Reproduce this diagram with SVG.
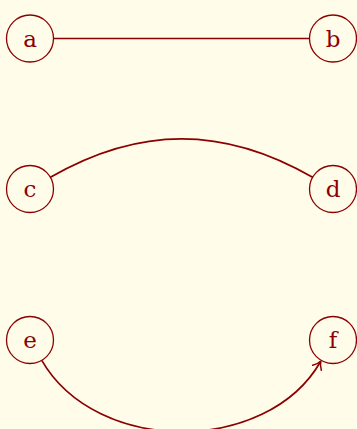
<svg xmlns="http://www.w3.org/2000/svg" width="357" height="429" viewBox="0 0 357 429">
<style>
.bg{fill:#fffce9}
.node circle{fill:none;stroke:#8b0000;stroke-width:1.3}
.node text{font-family:"DejaVu Serif","Liberation Serif",serif;font-size:23px;fill:#8b0000;text-anchor:middle}
.edge{fill:none;stroke:#8b0000;stroke-width:1.7}
</style>
<defs>
<marker id="to" viewBox="-9 -7 11 14" markerWidth="11" markerHeight="14" refX="0" refY="0" orient="auto" markerUnits="userSpaceOnUse">
<path d="M-7,-5 C-4.5,-2.2 -1.2,-0.5 0.8,0 C-1.2,0.5 -4.5,2.2 -7,5" fill="none" stroke="#8b0000" stroke-width="1.5" stroke-linecap="round"/>
</marker>
</defs>
<rect class="bg" width="357" height="429"/>
<g id="connectors">
<path class="edge" d="M53.5,38.5 L309.5,38.5"/>
<path class="edge" d="M50.4,177.3 C139.3,126 223.7,126 312.6,177.3"/>
<path class="edge" d="M41.75,360.4 C96.5,455.2 266.5,455.2 320.5,361.7" marker-end="url(#to)"/>
</g>
<g id="a" class="node"><circle cx="30" cy="38.5" r="23.5"/><text x="30" y="46.5">a</text></g>
<g id="b" class="node"><circle cx="333" cy="38.5" r="23.5"/><text x="333" y="46.5">b</text></g>
<g id="c" class="node"><circle cx="30" cy="189" r="23.5"/><text x="30" y="197">c</text></g>
<g id="d" class="node"><circle cx="333" cy="189" r="23.5"/><text x="333" y="197">d</text></g>
<g id="e" class="node"><circle cx="30" cy="340" r="23.5"/><text x="30" y="348">e</text></g>
<g id="f" class="node"><circle cx="333" cy="340" r="23.5"/><text x="333" y="348">f</text></g>
</svg>
